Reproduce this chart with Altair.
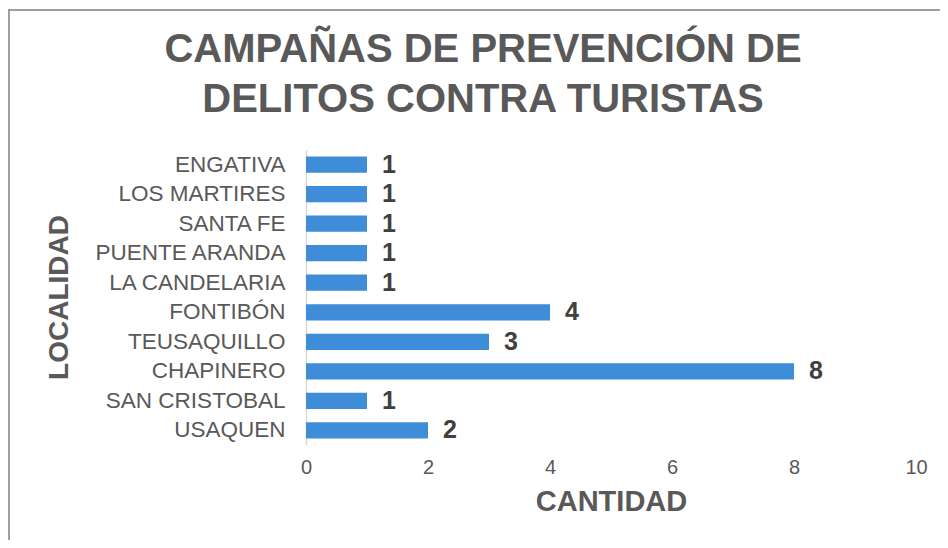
import altair as alt
import pandas as pd

localidades = ["ENGATIVA", "LOS MARTIRES", "SANTA FE", "PUENTE ARANDA", "LA CANDELARIA",
               "FONTIBÓN", "TEUSAQUILLO", "CHAPINERO", "SAN CRISTOBAL", "USAQUEN"]
cantidades = [1, 1, 1, 1, 1, 4, 3, 8, 1, 2]
x_ticks = [0, 2, 4, 6, 8, 10]

df = pd.DataFrame({"localidad": localidades, "cantidad": cantidades})

FONT = "Liberation Sans"
GRAY = "#595959"

base = alt.Chart(df)

y_enc = alt.Y("localidad:N", sort=localidades,
              scale=alt.Scale(paddingInner=0.45, paddingOuter=0.22),
              axis=alt.Axis(title="LOCALIDAD", titleFont=FONT, titleFontSize=28,
                            titleFontWeight="bold", titleColor=GRAY,
                            titleX=-233, titleY=147, titleAlign="center",
                            titleBaseline="bottom", titleAngle=-90,
                            labelFont=FONT, labelFontSize=22.5, labelColor=GRAY,
                            labelLimit=400, labelPadding=21, ticks=False,
                            domainColor="#d9d9d9", domainWidth=1.5))
x_enc = alt.X("cantidad:Q", scale=alt.Scale(domain=[0, 10], nice=False),
              axis=alt.Axis(title="CANTIDAD", values=x_ticks, format="d", grid=False,
                            domain=False, ticks=False, labelFlush=False,
                            labelFont=FONT, labelFontSize=20,
                            labelColor=GRAY, labelPadding=12, titleFont=FONT,
                            titleFontSize=29, titleFontWeight="bold", titleColor=GRAY,
                            titleY=42, titleBaseline="top"))

bars = base.mark_bar(color="#3F8CD8").encode(x=x_enc, y=y_enc)
labels = base.mark_text(align="left", baseline="middle", dx=15, font=FONT,
                        fontSize=25, fontWeight="bold", color="#404040").encode(
    x="cantidad:Q", y=alt.Y("localidad:N", sort=localidades), text="cantidad:Q")

frame_df = pd.DataFrame({"a": [0]})
left_line = alt.Chart(frame_df).mark_rule(color="#7f7f7f", strokeWidth=1.5).encode(
    x=alt.value(-297), y=alt.value(-141), y2=alt.value(400))
top_line = alt.Chart(frame_df).mark_rule(color="#7f7f7f", strokeWidth=1.5).encode(
    x=alt.value(-297), x2=alt.value(640), y=alt.value(-140))

chart = alt.layer(left_line, top_line, bars, labels).properties(
    width=610, height=295,
    padding={"left": 298, "top": 142, "right": 24, "bottom": 95},
    autosize=alt.AutoSizeParams(type="none"),
    title=alt.TitleParams(text=["CAMPAÑAS DE PREVENCIÓN DE", "DELITOS CONTRA TURISTAS"],
                          font=FONT, fontSize=40, fontWeight="bold", color=GRAY,
                          anchor="middle", frame="group", dx=-128, offset=-112,
                          lineHeight=50),
).configure(background="white").configure_view(strokeWidth=0, stroke="transparent")

chart.save("out.html", embed_options={"renderer": "svg", "actions": False})
